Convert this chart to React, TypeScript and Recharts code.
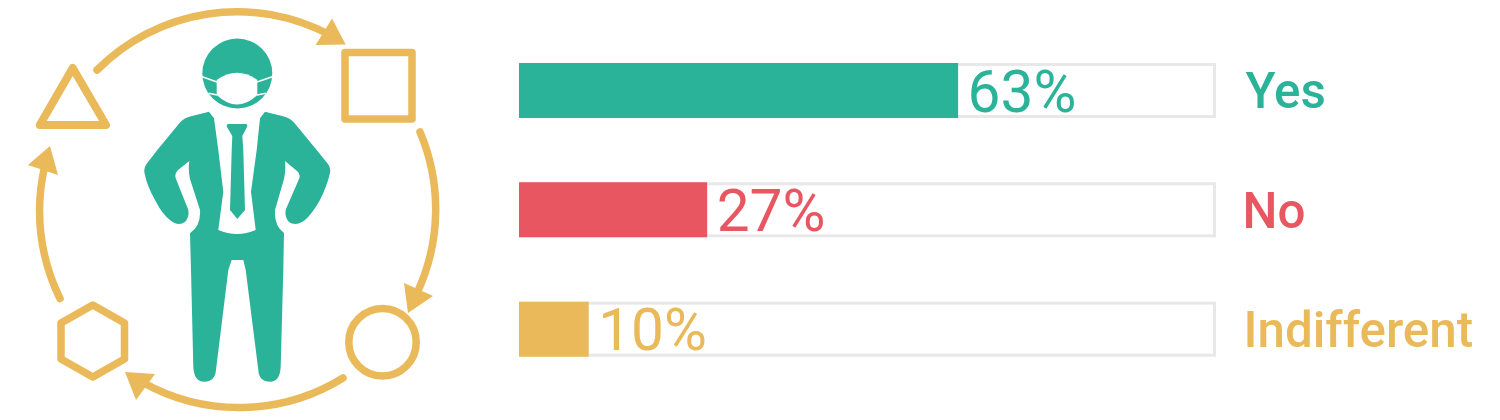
import React from "react";
import { BarChart, Bar, XAxis, YAxis, Cell, LabelList } from "recharts";

const categories = ["Yes", "No", "Indifferent"];
const percentages = [63, 27, 10];
const palette = ["#2bb39a", "#e85761", "#e9b95a"];
const labelNudge = [3, 0, 1];
const track = "#e8e8e8";
const accent = "#e9b95a";

const rows = categories.map((category, i) => ({ category, value: percentages[i] }));

const Track = (props: any) => (
  <rect
    x={props.x + 1.5}
    y={props.y + 1.5}
    width={props.width - 3}
    height={props.height - 3}
    fill="#ffffff"
    stroke={track}
    strokeWidth={3}
  />
);

const PercentLabel = (props: any) => {
  const { x, y, width, height, value, index } = props;
  return (
    <text
      x={x + width + 9.5}
      y={y + height / 2 + 21}
      fill={palette[index]}
      fontFamily="Roboto"
      fontSize={58.6}
      fontWeight={400}
    >
      {value}%
    </text>
  );
};

const CategoryTick = (props: any) => {
  const { x, y, payload } = props;
  const i = categories.indexOf(payload.value);
  return (
    <text
      x={x + 18.5 + labelNudge[i]}
      y={y + 17.5}
      fill={palette[i]}
      fontFamily="Roboto"
      fontSize={49.3}
      fontWeight={500}
    >
      {payload.value}
    </text>
  );
};

const body =
  "M209 111.7 L214 118.3 L218.3 150 L223.3 191.7 L218.3 230 Q237 238 255.7 230 L251 191.7 L256.7 150 L260 118.3 L265 111.7 " +
  "L284 116.5 Q290 118 294 122.5 L316.7 150 L328 164 Q331 168 330 173 Q327 186 320 200 Q312 214 305 220 Q296 227 289 222 Q284 216 286 209 " +
  "L299 179 Q301 174 297 171 L285 161 Q286 170 284 179 L275 210 Q274 226 284 233 L283.3 270 L280.7 366.7 Q280 381.7 270 381.7 Q259 381.7 258.3 370 " +
  "L245.7 270 L243.3 260 L231.7 260 L228.3 270 L216 370 Q215 381.7 204.3 381.7 Q194 381.7 193.3 366.7 L191 270 L190 233.3 Q201 226 200 210 " +
  "L190 179 Q188 170 189.3 161 L178 170 Q174 174 176 179 L188 209 Q190 216 185 222 Q178 227 170 220 Q162 214 155 200 Q147 186 144.5 173 Q143.5 168 146.5 164 L157.3 150 L180 122.5 Q184 118 190 116.5 Z";

const tie =
  "M228.5 124 L245.5 124 Q248 124 247 127 L242.3 136 L243.3 150 L245 210 L237.3 219 L230 210 L231.7 150 L232.3 136 L227 127 Q226 124 228.5 124 Z";

const Figure = () => (
  <svg width={500} height={420} style={{ position: "absolute", left: 0, top: 0 }}>
    <g fill="none" stroke={accent} strokeWidth={7.5} strokeLinecap="round" strokeLinejoin="round">
      <path d="M97 70 A197.5 197.5 0 0 1 330 35" />
      <path d="M420 132 A197.5 197.5 0 0 1 417 293" />
      <path d="M343 378 A197.5 197.5 0 0 1 142 382" />
      <path d="M60 298.5 A197.5 197.5 0 0 1 45 165" />
      <path d="M72.7 68 L106 125 L39.8 125 Z" strokeWidth={8} />
      <rect x={345} y={52.4} width={67} height={66.6} />
      <circle cx={382.5} cy={342.3} r={33.7} />
      <path d="M92.8 305 L124.5 323 L124.5 359 L92.8 377 L61 359 L61 323 Z" />
    </g>
    <g fill={accent}>
      <path d="M315.7 45 L345.7 44.5 L332 18.5 Z" />
      <path d="M404 283 L433 296 L408 313 Z" />
      <path d="M125 372 L155 374 L136 400 Z" />
      <path d="M50 146 L28 165 L58 175 Z" />
    </g>
    <circle cx={237.3} cy={73.5} r={35} fill={palette[0]} />
    <path d="M216.7 80 Q237 65.5 257.3 80 L257.3 95 Q237 114 216.7 95 Z" fill="#ffffff" />
    <g stroke="#ffffff" strokeWidth={1.6} fill="none">
      <path d="M201.5 76.5 L217 82" />
      <path d="M273 76.5 L257 82" />
      <path d="M208.5 93.3 L217.3 95" />
      <path d="M266 93.3 L257 95" />
    </g>
    <path d={body} fill={palette[0]} />
    <path d={tie} fill={palette[0]} />
  </svg>
);

export default function App() {
  return (
    <div style={{ position: "absolute", left: 0, top: 0, width: 1500, height: 420, background: "#ffffff" }}>
      <Figure />
      <div style={{ position: "absolute", left: 0, top: 0 }}>
        <BarChart
          width={1500}
          height={420}
          data={rows}
          layout="vertical"
          margin={{ top: 31, right: 0, bottom: 31, left: 519 }}
          barSize={55}
          style={{ pointerEvents: "none" }}
        >
          <XAxis type="number" domain={[0, 100]} hide />
          <YAxis
            type="category"
            dataKey="category"
            orientation="right"
            width={284}
            axisLine={false}
            tickLine={false}
            tick={<CategoryTick />}
          />
          <Bar dataKey="value" isAnimationActive={false} background={<Track />}>
            {rows.map((row, i) => (
              <Cell key={row.category} fill={palette[i]} />
            ))}
            <LabelList dataKey="value" content={<PercentLabel />} />
          </Bar>
        </BarChart>
      </div>
    </div>
  );
}
